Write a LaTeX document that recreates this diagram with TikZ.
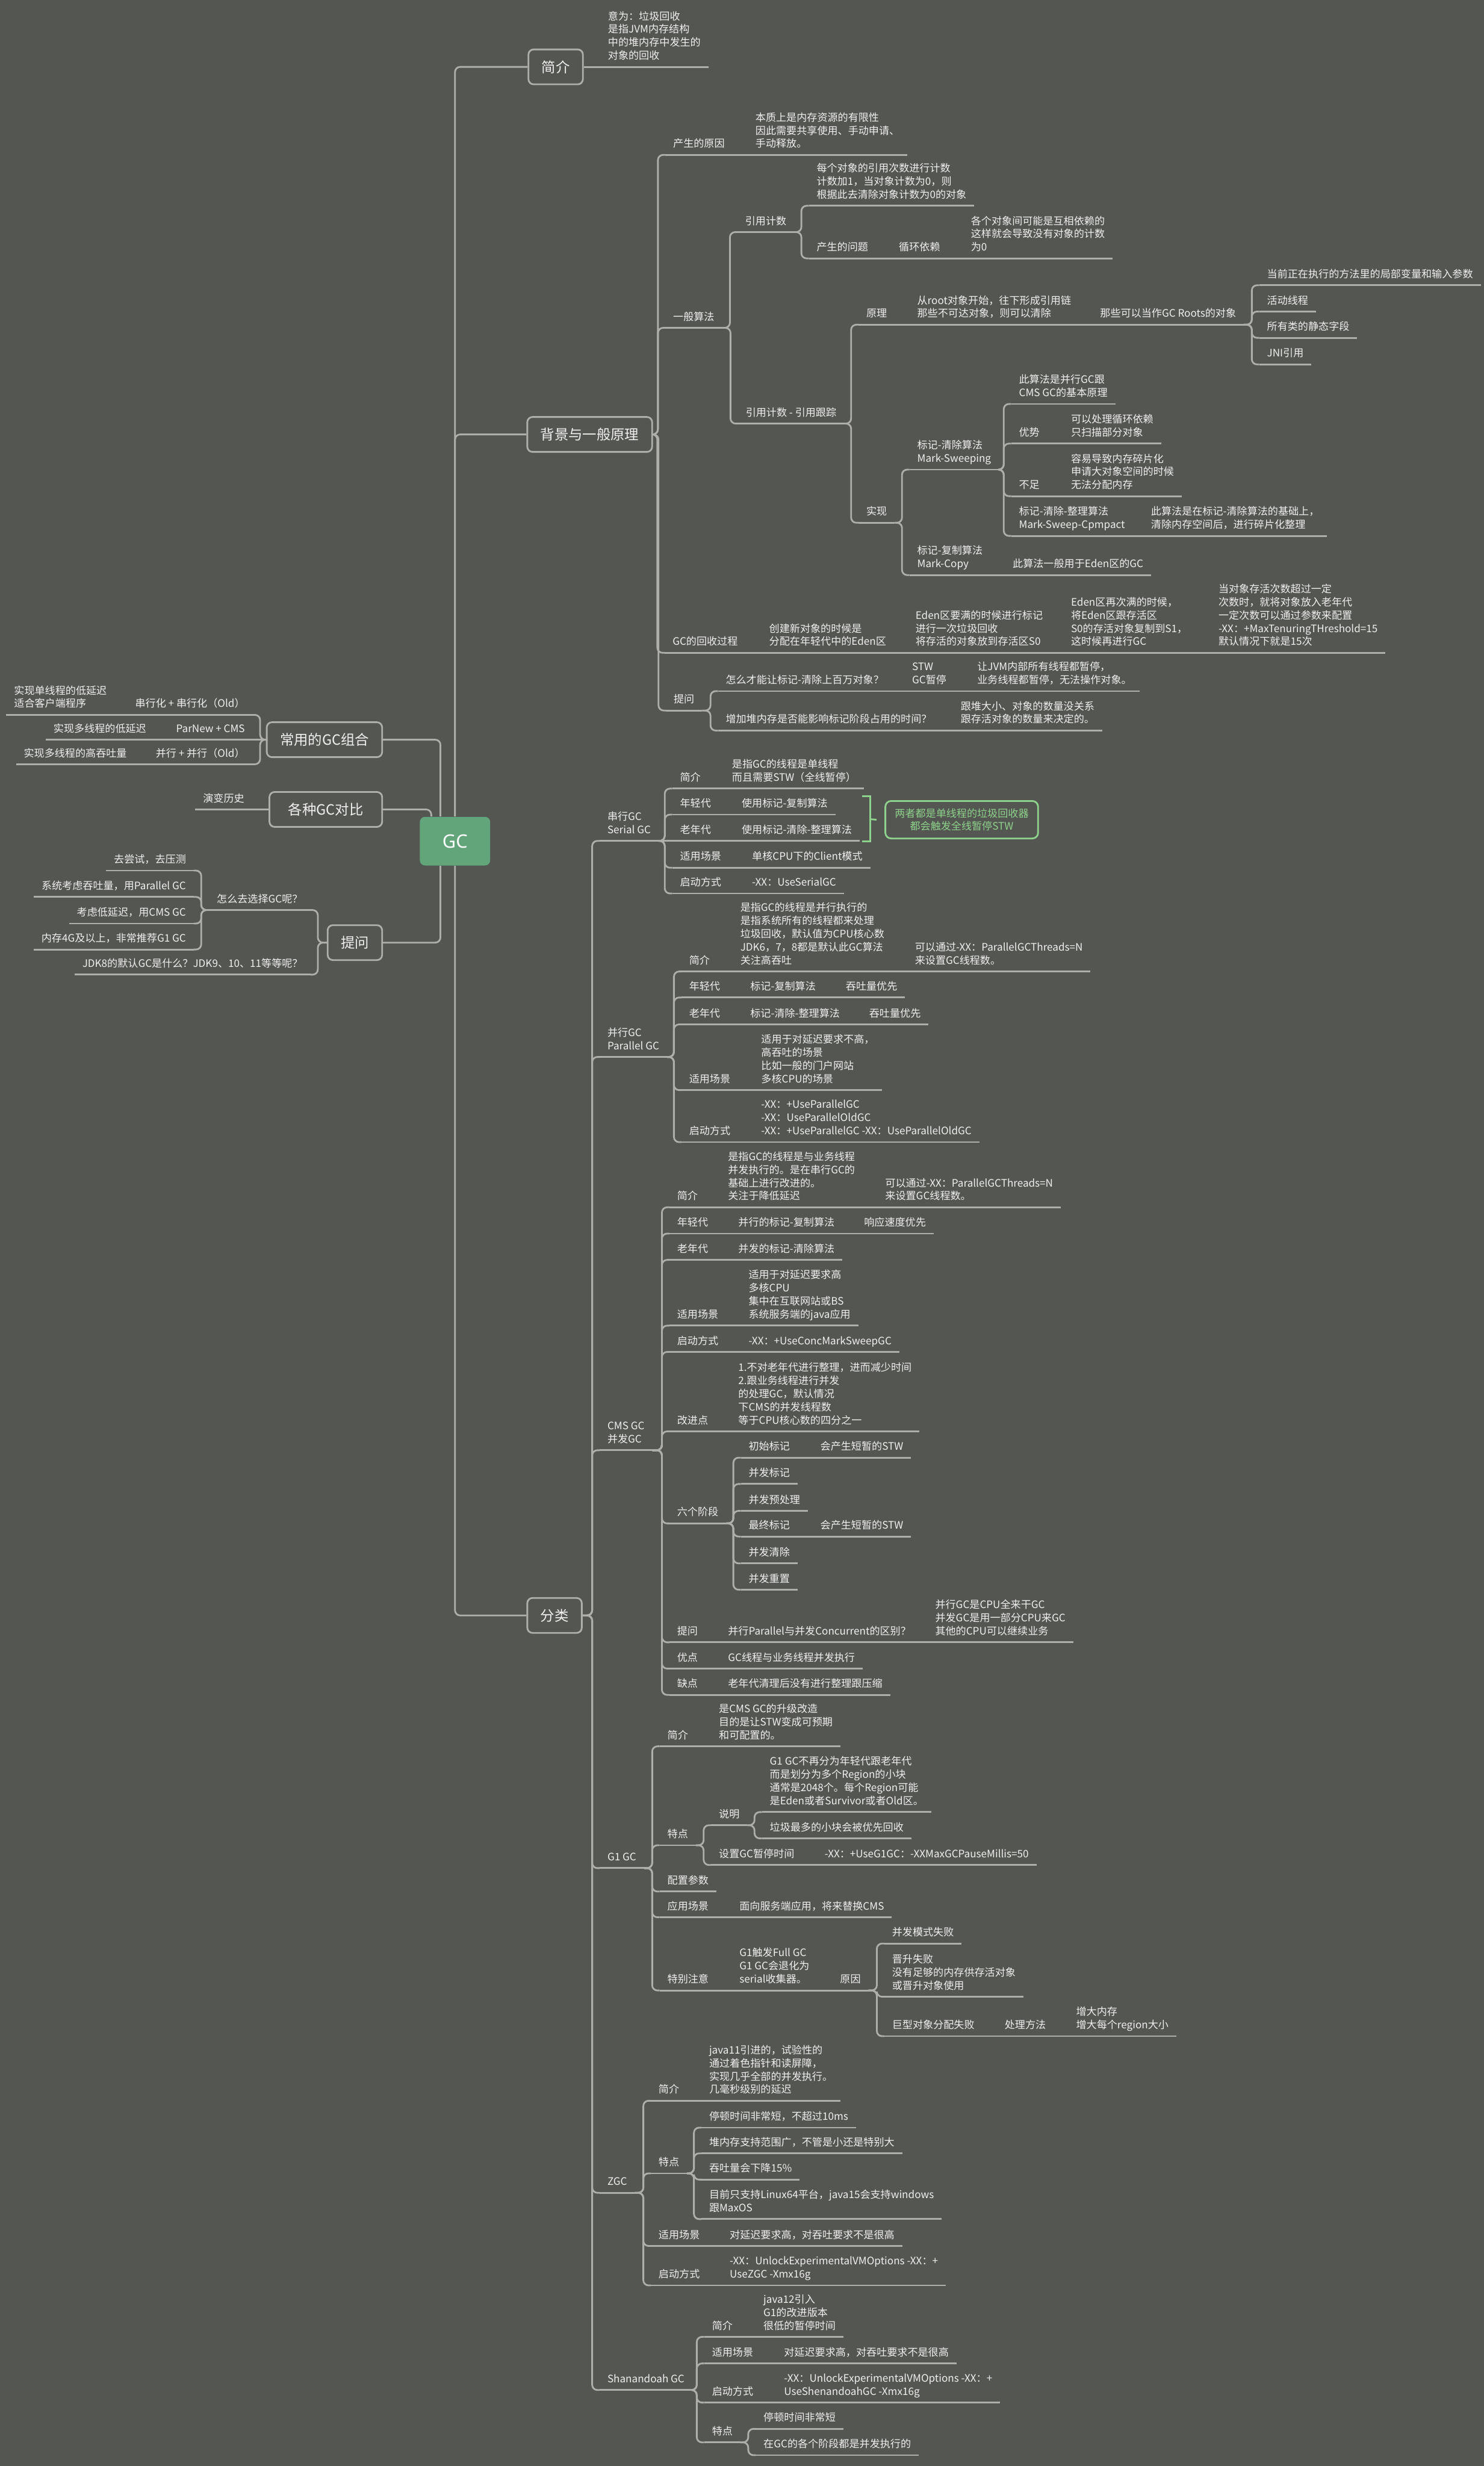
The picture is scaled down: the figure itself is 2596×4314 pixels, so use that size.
\documentclass[tikz,border=0pt]{standalone}
\usepackage{fontspec}
\setmainfont{Noto Sans CJK SC}
\newfontfamily\gcfam{Noto Sans}
\usetikzlibrary{calc}
\definecolor{bgc}{HTML}{545652}
\definecolor{ln}{HTML}{AEAEAA}
\definecolor{txt}{HTML}{F0F0EE}
\definecolor{gcg}{HTML}{63A57B}
\definecolor{grn}{HTML}{8ED28B}
\newcommand\mytf{\fontsize{5.12pt}{6.54pt}\selectfont}
\newcommand\mybf{\fontsize{7pt}{8.5pt}\selectfont}
\newcommand\mygf{\gcfam\bfseries\fontsize{9.2pt}{11pt}\selectfont}
\newcommand\cnR[2]{\draw[conn] (#1) -| ([xshift=-0.13cm]#2.south west) -- (#2.south west);}
\newcommand\cnS[2]{\draw[conn] (#1.south east) -- (#2.south west);}
\newcommand\cnL[2]{\draw[conn] (#1) -| ([xshift=0.13cm]#2.south east) -- (#2.south east);}
\newcommand\cnSL[2]{\draw[conn] (#1.south west) -- (#2.south east);}
\pgfdeclarelayer{bg}
\pgfdeclarelayer{lines}
\pgfsetlayers{bg,lines,main}
\begin{document}
\begin{tikzpicture}[x=0.01cm,y=-0.01cm,
 conn/.style={draw=ln,line width=0.85pt,rounded corners=0.09cm},
 gl/.style={draw=grn,line width=0.85pt},
 tb/.style={inner xsep=0.13cm,inner ysep=0.055cm,align=left,font=\mytf,text=txt,
   execute at end node=\strut,
   append after command={(\tikzlastnode.south west) edge[conn] (\tikzlastnode.south east)}},
 t/.style={tb,anchor=south west,xshift=-0.13cm},
 tl/.style={tb,anchor=south east,xshift=0.13cm},
 box/.style={draw=ln,line width=0.85pt,rounded corners=0.09cm,fill=bgc,text=txt,font=\mybf,
   minimum height=0.61cm,inner xsep=0.23cm},
 root/.style={fill=gcg,rounded corners=0.09cm,minimum width=1.23cm,minimum height=0.85cm,
   text=white,font=\mygf},
 gbox/.style={draw=grn,line width=0.85pt,rounded corners=0.1cm,text=grn,font=\mytf,
   align=center,minimum width=2.67cm,minimum height=0.655cm}
]
\begin{pgfonlayer}{bg}
\fill[bgc] (0,0) rectangle (2596,4314);
\end{pgfonlayer}
\useasboundingbox (0,0) rectangle (2596,4314);

% ---------- main nodes
\node[root] (gc) at (796,1471.5) {GC};
\node[box,anchor=west] (jj) at (923,117) {简介};
\node[box,anchor=west] (bj) at (921,760) {背景与一般原理};
\node[box,anchor=west] (fl) at (921,2826) {分类};
\node[box,anchor=east,minimum width=1.97cm] (cy) at (670,1294) {常用的GC组合};
\node[box,anchor=east,minimum width=1.97cm] (gz) at (670,1416) {各种GC对比};
\node[box,anchor=east] (tw) at (670,1649) {提问};

% ---------- 简介
\node[t] (jj1) at (1063,117) {意为：垃圾回收\\是指JVM内存结构\\中的堆内存中发生的\\对象的回收};

% ---------- 背景与一般原理
\node[t] (b1) at (1177,271) {产生的原因};
\node[t] (b1a) at (1321,271) {本质上是内存资源的有限性\\因此需要共享使用、手动申请、\\手动释放。};
\node[t] (b2) at (1177,573.5) {一般算法};
\node[t] (b21) at (1303,406) {引用计数};
\node[t] (b211) at (1428,360) {每个对象的引用次数进行计数\\计数加1，当对象计数为0，则\\根据此去清除对象计数为0的对象};
\node[t] (b212) at (1428,452) {产生的问题};
\node[t] (b212a) at (1572,452) {循环依赖};
\node[t] (b212b) at (1698,452) {各个对象间可能是互相依赖的\\这样就会导致没有对象的计数\\为0};
\node[t] (b22) at (1304,741) {引用计数 - 引用跟踪};
\node[t] (b221) at (1515,568) {原理};
\node[t] (b221a) at (1604,568) {从root对象开始，往下形成引用链\\那些不可达对象，则可以清除};
\node[t] (b221b) at (1924,568) {那些可以当作GC Roots的对象};
\node[t] (r1) at (2216,499) {当前正在执行的方法里的局部变量和输入参数};
\node[t] (r2) at (2216,545) {活动线程};
\node[t] (r3) at (2216,591) {所有类的静态字段};
\node[t] (r4) at (2216,637.5) {JNI引用};
\node[t] (b222) at (1515,914.5) {实现};
\node[t] (m1) at (1604,821.5) {标记-清除算法\\Mark-Sweeping};
\node[t] (m11) at (1782,706.7) {此算法是并行GC跟\\CMS GC的基本原理};
\node[t] (m12) at (1782,776) {优势};
\node[t] (m12a) at (1873,776) {可以处理循环依赖\\只扫描部分对象};
\node[t] (m13) at (1782,868) {不足};
\node[t] (m13a) at (1873,868) {容易导致内存碎片化\\申请大对象空间的时候\\无法分配内存};
\node[t] (m14) at (1782,937.5) {标记-清除-整理算法\\Mark-Sweep-Cpmpact};
\node[t] (m14a) at (2013,937.5) {此算法是在标记-清除算法的基础上，\\清除内存空间后，进行碎片化整理};
\node[t] (m2) at (1604,1006) {标记-复制算法\\Mark-Copy};
\node[t] (m2a) at (1771,1006) {此算法一般用于Eden区的GC};
\node[t] (b3) at (1176,1142) {GC的回收过程};
\node[t] (h1) at (1345,1142) {创建新对象的时候是\\分配在年轻代中的Eden区};
\node[t] (h2) at (1601,1142) {Eden区要满的时候进行标记\\进行一次垃圾回收\\将存活的对象放到存活区S0};
\node[t] (h3) at (1873,1142) {Eden区再次满的时候，\\将Eden区跟存活区\\S0的存活对象复制到S1，\\这时候再进行GC};
\node[t] (h4) at (2131,1142) {当对象存活次数超过一定\\次数时，就将对象放入老年代\\一定次数可以通过参数来配置\\-XX：+MaxTenuringTHreshold=15\\默认情况下就是15次};
\node[t] (b4) at (1178,1243) {提问};
\node[t] (q1) at (1269,1209) {怎么才能让标记-清除上百万对象？};
\node[t] (q1a) at (1595,1209) {STW\\GC暂停};
\node[t] (q1b) at (1709,1209) {让JVM内部所有线程都暂停，\\业务线程都暂停，无法操作对象。};
\node[t] (q2) at (1269,1278) {增加堆内存是否能影响标记阶段占用的时间？};
\node[t] (q2a) at (1680,1278) {跟堆大小、对象的数量没关系\\跟存活对象的数量来决定的。};

% ---------- left side
\node[tl] (L1) at (429,1250.6) {串行化 + 串行化（Old）};
\node[t] (L1a) at (24,1250.6) {实现单线程的低延迟\\适合客户端程序};
\node[tl] (L2) at (429,1294) {ParNew + CMS};
\node[t] (L2a) at (93,1294) {实现多线程的低延迟};
\node[tl] (L3) at (429,1337) {并行 + 并行（Old）};
\node[t] (L3a) at (41,1337) {实现多线程的高吞吐量};
\node[tl] (GZ1) at (428,1416) {演变历史};
\node[tl] (T1) at (530,1592) {怎么去选择GC呢？};
\node[tl] (T11) at (326,1523) {去尝试，去压测};
\node[tl] (T12) at (326,1569) {系统考虑吞吐量，用Parallel GC};
\node[tl] (T13) at (326,1615.6) {考虑低延迟，用CMS GC};
\node[tl] (T14) at (326,1661) {内存4G及以上，非常推荐G1 GC};
\node[tl] (T2) at (530,1705) {JDK8的默认GC是什么？JDK9、10、11等等呢？};

% ---------- 串行GC
\node[t] (s) at (1062,1471) {串行GC\\Serial GC};
\node[t] (s1) at (1189,1379.5) {简介};
\node[t] (s1a) at (1280,1379.5) {是指GC的线程是单线程\\而且需要STW（全线暂停）};
\node[t] (s2) at (1189,1425) {年轻代};
\node[t] (s2a) at (1297,1425) {使用标记-复制算法};
\node[t] (s3) at (1189,1471) {老年代};
\node[t] (s3a) at (1297,1471) {使用标记-清除-整理算法};
\node[t] (s4) at (1189,1518) {适用场景};
\node[t] (s4a) at (1315,1518) {单核CPU下的Client模式};
\node[t] (s5) at (1189,1563) {启动方式};
\node[t] (s5a) at (1315,1563) {-XX：UseSerialGC};
\node[gbox] (note) at (1682.5,1434) {两者都是单线程的垃圾回收器\\都会触发全线暂停STW};
\coordinate (bkt) at (1508,1393);
\coordinate (bkb) at (1508,1472);
\coordinate (bkm) at (1522,1433);
\draw[gl] (bkt) -- (1522,1393) -- (1522,1472) -- (bkb);
\draw[gl] (bkm) -- ([xshift=-0.14cm]note.west);

% ---------- 并行GC
\node[t] (p) at (1062,1849) {并行GC\\Parallel GC};
\node[t] (p1) at (1205,1699.5) {简介};
\node[t] (p1a) at (1294.5,1699.5) {是指GC的线程是并行执行的\\是指系统所有的线程都来处理\\垃圾回收，默认值为CPU核心数\\JDK6，7，8都是默认此GC算法\\关注高吞吐};
\node[t] (p1b) at (1600,1699.5) {可以通过-XX：ParallelGCThreads=N\\来设置GC线程数。};
\node[t] (p2) at (1205,1745) {年轻代};
\node[t] (p2a) at (1312,1745) {标记-复制算法};
\node[t] (p2b) at (1479,1745) {吞吐量优先};
\node[t] (p3) at (1205,1792) {老年代};
\node[t] (p3a) at (1312,1792) {标记-清除-整理算法};
\node[t] (p3b) at (1520,1792) {吞吐量优先};
\node[t] (p4) at (1205,1907) {适用场景};
\node[t] (p4a) at (1331,1907) {适用于对延迟要求不高，\\高吞吐的场景\\比如一般的门户网站\\多核CPU的场景};
\node[t] (p5) at (1205,1998) {启动方式};
\node[t] (p5a) at (1331,1998) {-XX：+UseParallelGC\\-XX：UseParallelOldGC\\-XX：+UseParallelGC -XX：UseParallelOldGC};

% ---------- CMS GC
\node[t] (c) at (1062,2537) {CMS GC\\并发GC};
\node[t] (c1) at (1184,2112) {简介};
\node[t] (c1a) at (1273,2112) {是指GC的线程是与业务线程\\并发执行的。是在串行GC的\\基础上进行改进的。\\关注于降低延迟};
\node[t] (c1b) at (1548,2112) {可以通过-XX：ParallelGCThreads=N\\来设置GC线程数。};
\node[t] (c2) at (1184,2158) {年轻代};
\node[t] (c2a) at (1291,2158) {并行的标记-复制算法};
\node[t] (c2b) at (1511,2158) {响应速度优先};
\node[t] (c3) at (1184,2204) {老年代};
\node[t] (c3a) at (1291,2204) {并发的标记-清除算法};
\node[t] (c4) at (1184,2319) {适用场景};
\node[t] (c4a) at (1309,2319) {适用于对延迟要求高\\多核CPU\\集中在互联网站或BS\\系统服务端的java应用};
\node[t] (c5) at (1184,2365) {启动方式};
\node[t] (c5a) at (1309,2365) {-XX：+UseConcMarkSweepGC};
\node[t] (c6) at (1184,2504) {改进点};
\node[t] (c6a) at (1291,2504) {1.不对老年代进行整理，进而减少时间\\2.跟业务线程进行并发\\的处理GC，默认情况\\下CMS的并发线程数\\等于CPU核心数的四分之一};
\node[t] (c7) at (1184,2665) {六个阶段};
\node[t] (c71) at (1309,2550) {初始标记};
\node[t] (c71a) at (1434.5,2550) {会产生短暂的STW};
\node[t] (c72) at (1309,2596) {并发标记};
\node[t] (c73) at (1309,2643) {并发预处理};
\node[t] (c74) at (1309,2688) {最终标记};
\node[t] (c74a) at (1434.5,2688) {会产生短暂的STW};
\node[t] (c75) at (1309,2735) {并发清除};
\node[t] (c76) at (1309,2781) {并发重置};
\node[t] (c8) at (1184,2873) {提问};
\node[t] (c8a) at (1273,2873) {并行Parallel与并发Concurrent的区别？};
\node[t] (c8b) at (1635.5,2873) {并行GC是CPU全来干GC\\并发GC是用一部分CPU来GC\\其他的CPU可以继续业务};
\node[t] (c9) at (1184,2919) {优点};
\node[t] (c9a) at (1273,2919) {GC线程与业务线程并发执行};
\node[t] (c10) at (1184,2965) {缺点};
\node[t] (c10a) at (1273,2965) {老年代清理后没有进行整理跟压缩};

% ---------- G1 GC
\node[t] (g) at (1062,3268) {G1 GC};
\node[t] (g1) at (1167,3055) {简介};
\node[t] (g1a) at (1257,3055) {是CMS GC的升级改造\\目的是让STW变成可预期\\和可配置的。};
\node[t] (g2) at (1167,3228) {特点};
\node[t] (g21) at (1257,3193) {说明};
\node[t] (g211) at (1346,3170) {G1 GC不再分为年轻代跟老年代\\而是划分为多个Region的小块\\通常是2048个。每个Region可能\\是Eden或者Survivor或者Old区。};
\node[t] (g212) at (1346,3216) {垃圾最多的小块会被优先回收};
\node[t] (g22) at (1257,3262.5) {设置GC暂停时间};
\node[t] (g22a) at (1442,3262.5) {-XX：+UseG1GC：-XXMaxGCPauseMillis=50};
\node[t] (g3) at (1167,3309) {配置参数};
\node[t] (g4) at (1167,3354) {应用场景};
\node[t] (g4a) at (1293,3354) {面向服务端应用，将来替换CMS};
\node[t] (g5) at (1167,3482) {特别注意};
\node[t] (g5a) at (1293,3482) {G1触发Full GC\\G1 GC会退化为\\serial收集器。};
\node[t] (g5b) at (1469,3482) {原因};
\node[t] (g5b1) at (1560,3400) {并发模式失败};
\node[t] (g5b2) at (1560,3493) {晋升失败\\没有足够的内存供存活对象\\或晋升对象使用};
\node[t] (g5b3) at (1560,3562) {巨型对象分配失败};
\node[t] (g5b3a) at (1757,3562) {处理方法};
\node[t] (g5b3b) at (1882,3562) {增大内存\\增大每个region大小};

% ---------- ZGC
\node[t] (z) at (1062,3836) {ZGC};
\node[t] (z1) at (1151.5,3675) {简介};
\node[t] (z1a) at (1240,3675) {java11引进的，试验性的\\通过着色指针和读屏障，\\实现几乎全部的并发执行。\\几毫秒级别的延迟};
\node[t] (z2) at (1151.5,3802) {特点};
\node[t] (z21) at (1240,3722) {停顿时间非常短，不超过10ms};
\node[t] (z22) at (1240,3767) {堆内存支持范围广，不管是小还是特别大};
\node[t] (z23) at (1240,3813) {吞吐量会下降15\%};
\node[t] (z24) at (1240,3882) {目前只支持Linux64平台，java15会支持windows\\跟MaxOS};
\node[t] (z3) at (1151.5,3929) {适用场景};
\node[t] (z3a) at (1276,3929) {对延迟要求高，对吞吐要求不是很高};
\node[t] (z4) at (1151.5,3998) {启动方式};
\node[t] (z4a) at (1276,3998) {-XX：UnlockExperimentalVMOptions -XX：+\\UseZGC -Xmx16g};

% ---------- Shanandoah GC
\node[t] (sh) at (1062,4181) {Shanandoah GC};
\node[t] (sh1) at (1245,4088) {简介};
\node[t] (sh1a) at (1335,4088) {java12引入\\G1的改进版本\\很低的暂停时间};
\node[t] (sh2) at (1245,4134.5) {适用场景};
\node[t] (sh2a) at (1371,4134.5) {对延迟要求高，对吞吐要求不是很高};
\node[t] (sh3) at (1245,4203) {启动方式};
\node[t] (sh3a) at (1371,4203) {-XX：UnlockExperimentalVMOptions -XX：+\\UseShenandoahGC -Xmx16g};
\node[t] (sh4) at (1245,4272.6) {特点};
\node[t] (sh41) at (1335,4249) {停顿时间非常短};
\node[t] (sh42) at (1335,4295) {在GC的各个阶段都是并发执行的};

% ---------- connectors
\begin{pgfonlayer}{lines}
\draw[conn] (gc.north) |- (jj.west);
\draw[conn] (gc.north) |- (bj.west);
\draw[conn] (gc.south) |- (fl.west);
\draw[conn] ([xshift=-0.255cm]gc.north) |- (cy.east);
\draw[conn] ([xshift=-0.415cm]gc.north) |- (gz.east);
\draw[conn] ([xshift=-0.255cm]gc.south) |- (tw.east);

\draw[conn] (jj.east) -- (jj1.south west);

\cnR{bj.east}{b1} \cnR{bj.east}{b2} \cnR{bj.east}{b3} \cnR{bj.east}{b4}
\cnS{b1}{b1a}
\cnR{b2.south east}{b21} \cnR{b2.south east}{b22}
\cnR{b21.south east}{b211} \cnR{b21.south east}{b212}
\cnS{b212}{b212a} \cnS{b212a}{b212b}
\cnR{b22.south east}{b221} \cnR{b22.south east}{b222}
\cnS{b221}{b221a} \cnS{b221a}{b221b}
\cnR{b221b.south east}{r1} \cnR{b221b.south east}{r2}
\cnR{b221b.south east}{r3} \cnR{b221b.south east}{r4}
\cnR{b222.south east}{m1} \cnR{b222.south east}{m2}
\cnR{m1.south east}{m11} \cnR{m1.south east}{m12}
\cnR{m1.south east}{m13} \cnR{m1.south east}{m14}
\cnS{m12}{m12a} \cnS{m13}{m13a} \cnS{m14}{m14a} \cnS{m2}{m2a}
\cnS{b3}{h1} \cnS{h1}{h2} \cnS{h2}{h3} \cnS{h3}{h4}
\cnR{b4.south east}{q1} \cnR{b4.south east}{q2}
\cnS{q1}{q1a} \cnS{q1a}{q1b} \cnS{q2}{q2a}

\cnL{cy.west}{L1} \draw[conn] (cy.west) -- (L2.south east); \cnL{cy.west}{L3}
\cnSL{L1}{L1a} \cnSL{L2}{L2a} \cnSL{L3}{L3a}
\draw[conn] (gz.west) -- (GZ1.south east);
\cnL{tw.west}{T1} \cnL{tw.west}{T2}
\cnL{T1.south west}{T11} \cnL{T1.south west}{T12}
\cnL{T1.south west}{T13} \cnL{T1.south west}{T14}

\cnR{fl.east}{s} \cnR{fl.east}{p} \cnR{fl.east}{c}
\cnR{fl.east}{g} \cnR{fl.east}{z} \cnR{fl.east}{sh}

\cnR{s.south east}{s1} \cnR{s.south east}{s2}
\draw[conn] (s.south east) -- (s3.south west);
\cnR{s.south east}{s4} \cnR{s.south east}{s5}
\cnS{s1}{s1a} \cnS{s2}{s2a} \cnS{s3}{s3a} \cnS{s4}{s4a} \cnS{s5}{s5a}

\cnR{p.south east}{p1} \cnR{p.south east}{p2} \cnR{p.south east}{p3}
\cnR{p.south east}{p4} \cnR{p.south east}{p5}
\cnS{p1}{p1a} \cnS{p1a}{p1b} \cnS{p2}{p2a} \cnS{p2a}{p2b}
\cnS{p3}{p3a} \cnS{p3a}{p3b} \cnS{p4}{p4a} \cnS{p5}{p5a}

\cnR{c.south east}{c1} \cnR{c.south east}{c2} \cnR{c.south east}{c3}
\cnR{c.south east}{c4} \cnR{c.south east}{c5} \cnR{c.south east}{c6}
\cnR{c.south east}{c7} \cnR{c.south east}{c8} \cnR{c.south east}{c9}
\cnR{c.south east}{c10}
\cnS{c1}{c1a} \cnS{c1a}{c1b} \cnS{c2}{c2a} \cnS{c2a}{c2b} \cnS{c3}{c3a}
\cnS{c4}{c4a} \cnS{c5}{c5a} \cnS{c6}{c6a}
\cnR{c7.south east}{c71} \cnR{c7.south east}{c72} \cnR{c7.south east}{c73}
\cnR{c7.south east}{c74} \cnR{c7.south east}{c75} \cnR{c7.south east}{c76}
\cnS{c71}{c71a} \cnS{c74}{c74a}
\cnS{c8}{c8a} \cnS{c8a}{c8b} \cnS{c9}{c9a} \cnS{c10}{c10a}

\cnR{g.south east}{g1} \cnR{g.south east}{g2} \cnR{g.south east}{g3}
\cnR{g.south east}{g4} \cnR{g.south east}{g5}
\cnS{g1}{g1a}
\cnR{g2.south east}{g21} \cnR{g2.south east}{g22}
\cnR{g21.south east}{g211} \cnR{g21.south east}{g212}
\cnS{g22}{g22a} \cnS{g4}{g4a} \cnS{g5}{g5a} \cnS{g5a}{g5b}
\cnR{g5b.south east}{g5b1} \cnR{g5b.south east}{g5b2} \cnR{g5b.south east}{g5b3}
\cnS{g5b3}{g5b3a} \cnS{g5b3a}{g5b3b}

\cnR{z.south east}{z1} \cnR{z.south east}{z2} \cnR{z.south east}{z3} \cnR{z.south east}{z4}
\cnS{z1}{z1a}
\cnR{z2.south east}{z21} \cnR{z2.south east}{z22}
\cnR{z2.south east}{z23} \cnR{z2.south east}{z24}
\cnS{z3}{z3a} \cnS{z4}{z4a}

\cnR{sh.south east}{sh1} \cnR{sh.south east}{sh2}
\cnR{sh.south east}{sh3} \cnR{sh.south east}{sh4}
\cnS{sh1}{sh1a} \cnS{sh2}{sh2a} \cnS{sh3}{sh3a}
\cnR{sh4.south east}{sh41} \cnR{sh4.south east}{sh42}
\end{pgfonlayer}
\end{tikzpicture}
\end{document}
